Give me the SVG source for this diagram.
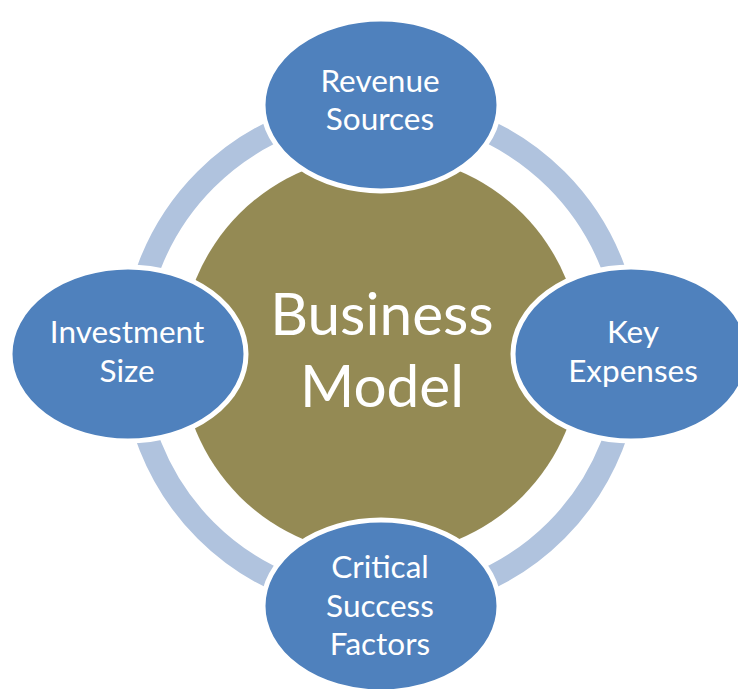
<svg xmlns="http://www.w3.org/2000/svg" width="738" height="689" viewBox="0 0 738 689">
  <style>
    .node { fill: #4f81bd; stroke: #ffffff; stroke-width: 5; }
    .label { font-family: Lato, "Liberation Sans", sans-serif; font-size: 31.5px; fill: #ffffff; text-anchor: middle; }
    .hub-label { font-family: Lato, "Liberation Sans", sans-serif; font-size: 58.5px; fill: #ffffff; text-anchor: middle; }
  </style>

  <rect width="738" height="689" fill="#ffffff"/>

  <!-- connecting ring behind the satellites -->
  <g id="connectors">
    <circle cx="381" cy="355" r="248" fill="none" stroke="#b0c3de" stroke-width="23"/>
  </g>

  <!-- central hub -->
  <g id="hub">
    <circle cx="381" cy="355" r="200" fill="#948a54"/>
    <text class="hub-label" x="382" y="335">Business</text>
    <text class="hub-label" x="382" y="407">Model</text>
  </g>

  <g id="revenue-sources">
    <ellipse class="node" cx="381" cy="105" rx="118" ry="86"/>
    <text class="label" x="380" y="92">Revenue</text>
    <text class="label" x="380" y="130">Sources</text>
  </g>

  <g id="investment-size">
    <ellipse class="node" cx="128" cy="354" rx="118" ry="87"/>
    <text class="label" x="127" y="343">Investment</text>
    <text class="label" x="127" y="382">Size</text>
  </g>

  <g id="key-expenses">
    <ellipse class="node" cx="631" cy="354" rx="118" ry="87"/>
    <text class="label" x="633" y="343">Key</text>
    <text class="label" x="633" y="382">Expenses</text>
  </g>

  <g id="critical-success-factors">
    <ellipse class="node" cx="381" cy="606" rx="118" ry="86"/>
    <text class="label" x="380" y="578">Critical</text>
    <text class="label" x="380" y="617">Success</text>
    <text class="label" x="380" y="655">Factors</text>
  </g>
</svg>
